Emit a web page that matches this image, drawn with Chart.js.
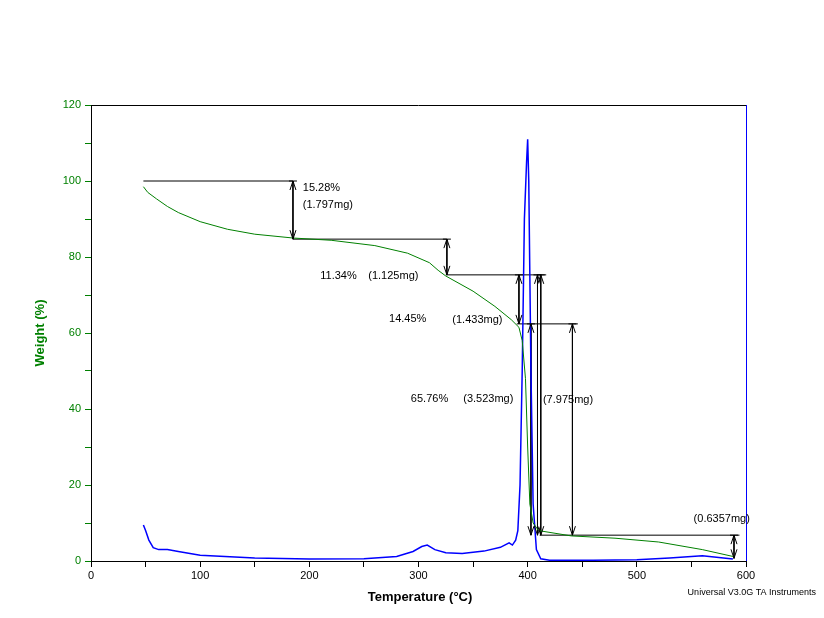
<!DOCTYPE html>
<html><head><meta charset="utf-8">
<script src="https://cdn.jsdelivr.net/npm/chart.js@4"></script>
<style>html,body{margin:0;padding:0;background:#fff}#w{width:824px;height:618px}</style>
</head><body><div id="w"><canvas id="c"></canvas></div>
<script>
const weightT = [48,52,60,70,80,100,125,150,185,220,260,290,310,318,325,350,370,385,392,395,398,400,402,405,410,440,480,520,560,588];
const weightV = [98.5,97,95.3,93.3,91.7,89.3,87.3,86.0,85.0,84.4,83.0,81.0,78.5,76.5,75.0,71.0,67.0,63.5,61.5,58,48,30,15,10,8,6.6,6.0,5.0,3.0,1.2];
const derivT = [48,50,53,57,62,70,80,100,150,200,250,280,295,303,308,315,325,340,360,375,383,386,389,391,393,395,397,399,400,401,403,405,408,412,420,460,500,530,560,588];
const derivV = [9.5,8,5.5,3.5,3.0,3.0,2.5,1.5,0.8,0.5,0.6,1.2,2.5,3.8,4.2,3.0,2.2,2.0,2.6,3.6,4.8,4.2,5.5,8,20,50,90,105,111,100,50,15,3,0.6,0.2,0.2,0.3,0.8,1.4,0.5];
const hLines = [[48,185,100],[185,326,84.7],[325,417,75.3],[390,446,62.4],[411,594,6.8]];
const vLines = [[185,100,84.7],[326,84.7,75.3],[392,75.3,62.4],[403,62.4,6.8],[409,75.3,6.8],[412,75.3,6.8],[441,62.4,6.8],[589,6.8,0.7]];
const labels = [["15.28%",194,98.2],["(1.797mg)",194,93.7],["11.34%",210,75.0],["(1.125mg)",254,75.0],["14.45%",273,63.6],["(1.433mg)",331,63.3],["65.76%",293,42.6],["(3.523mg)",341,42.6],["(7.975mg)",414,42.4],["(0.6357mg)",552,11.0]];
const xTicks = [0,100,200,300,400,500,600];
const yTicks = [0,20,40,60,80,100,120];

const lineDs = [];
hLines.forEach(h=>lineDs.push({data:[{x:h[0],y:h[2]},{x:h[1],y:h[2]}]}));
vLines.forEach(v=>lineDs.push({data:[{x:v[0],y:v[1]},{x:v[0],y:v[2]}]}));
const ds = [
 {data:weightT.map((t,i)=>({x:t,y:weightV[i]})),borderColor:'#008000',borderWidth:1},
 {data:derivT.map((t,i)=>({x:t,y:derivV[i]})),borderColor:'#0000ff',borderWidth:1.5},
 ...lineDs.map(d=>Object.assign(d,{borderColor:'#000',borderWidth:1}))
].map(d=>Object.assign({showLine:true,pointRadius:0,fill:false,tension:0},d));

const deco = {id:'deco',afterDraw(ch){
 const c=ch.ctx,x=ch.scales.x,y=ch.scales.y,a=ch.chartArea;
 c.save();
 c.strokeStyle='#000';c.lineWidth=1;c.beginPath();c.moveTo(a.left,a.top+0.5);c.lineTo(a.right,a.top+0.5);c.stroke();
 c.strokeStyle='#0000ff';c.beginPath();c.moveTo(a.right+0.5,a.top);c.lineTo(a.right+0.5,a.bottom);c.stroke();
 c.strokeStyle='#000';
 vLines.forEach(v=>{const px=x.getPixelForValue(v[0]);
  [[v[1],1],[v[2],-1]].forEach(([val,dir])=>{const py=y.getPixelForValue(val);
   c.beginPath();c.moveTo(px-3,py+dir*9);c.lineTo(px,py);c.lineTo(px+3,py+dir*9);c.stroke();});
  c.beginPath();c.moveTo(px-4,y.getPixelForValue(v[1]));c.lineTo(px+4,y.getPixelForValue(v[1]));c.stroke();});
 c.fillStyle='#000';c.font='11px "Liberation Sans", Arial';c.textBaseline='middle';
 labels.forEach(l=>c.fillText(l[0],x.getPixelForValue(l[1]),y.getPixelForValue(l[2])));
 c.font='bold 13px "Liberation Sans", Arial';c.textAlign='center';
 c.fillText('Temperature (°C)',420,597);
 c.fillStyle='#008000';c.translate(40,333);c.rotate(-Math.PI/2);c.fillText('Weight (%)',0,0);
 c.setTransform(1,0,0,1,0,0);c.scale(ch.currentDevicePixelRatio,ch.currentDevicePixelRatio);
 c.fillStyle='#000';c.font='9px "Liberation Sans", Arial';c.textAlign='right';c.fillText('Universal V3.0G TA Instruments',816,593);
 c.restore();}};

new Chart(document.getElementById('c'),{type:'scatter',data:{datasets:ds},plugins:[deco],
 options:{responsive:true,maintainAspectRatio:false,animation:false,
  layout:{padding:{top:105,right:78,left:0,bottom:0}},
  plugins:{legend:{display:false},tooltip:{enabled:false}},
  scales:{
   x:{type:'linear',min:0,max:600,afterFit(s){s.height=57;},
    afterBuildTicks(s){s.ticks=[];for(let v=0;v<=600;v+=50)s.ticks.push({value:v});},
    ticks:{color:'#000',font:{family:'"Liberation Sans", Arial',size:11},padding:2,maxRotation:0,autoSkip:false,callback:v=>xTicks.includes(v)?String(v):''},
    grid:{drawOnChartArea:false,tickLength:6,color:'#000'},border:{color:'#000'}},
   y:{min:0,max:120,afterFit(s){s.width=91;},
    afterBuildTicks(s){s.ticks=[];for(let v=0;v<=120;v+=10)s.ticks.push({value:v});},
    ticks:{color:'#008000',font:{family:'"Liberation Sans", Arial',size:11},padding:4,autoSkip:false,callback:v=>yTicks.includes(v)?String(v):''},
    grid:{drawOnChartArea:false,tickLength:6,color:'#008000'},border:{color:'#000'}}
  }}});
</script></body></html>
